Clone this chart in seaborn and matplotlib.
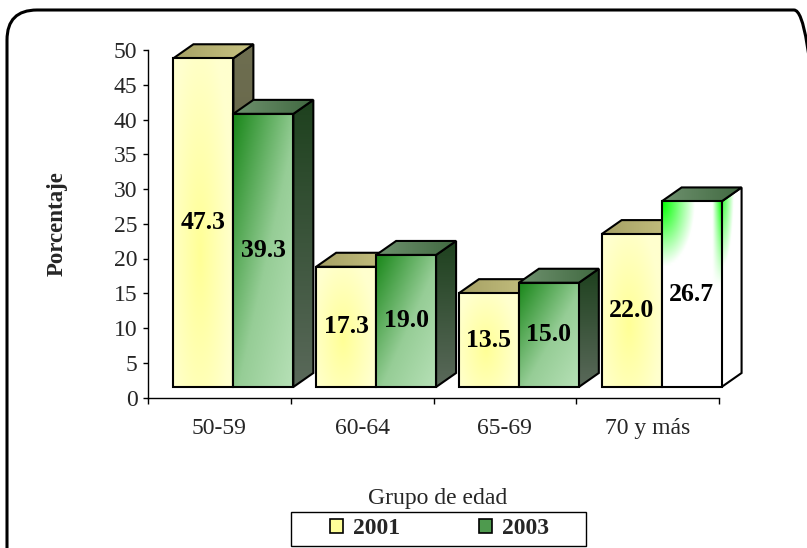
import numpy as np
import pandas as pd
import matplotlib
matplotlib.use("Agg")
import matplotlib.pyplot as plt
import seaborn as sns
from matplotlib.patches import Polygon, FancyBboxPatch, Rectangle

# ---------------- data ----------------
grupos = ["50-59", "60-64", "65-69", "70 y más"]
anios = ["2001", "2003"]
v2001 = [47.3, 17.3, 13.5, 22.0]
v2003 = [39.3, 19.0, 15.0, 26.7]
yticks = [0, 5, 10, 15, 20, 25, 30, 35, 40, 45, 50]

sns.set_style("white")
plt.rcParams["font.family"] = ["Liberation Serif", "DejaVu Serif"]

W, H = 807, 548
fig = plt.figure(figsize=(W / 100, H / 100), dpi=100)
L, R, B, T = 148, 719, H - 397.5, H - 50
ax = fig.add_axes([L / W, B / H, (R - L) / W, (T - B) / H])

df = pd.DataFrame({
    "grupo": grupos * 2,
    "anio": [anios[0]] * len(grupos) + [anios[1]] * len(grupos),
    "pct": v2001 + v2003,
})
sns.barplot(data=df, x="grupo", y="pct", hue="anio", width=0.84,
            palette=["#FFFFCC", "#88C888"], saturation=1, errorbar=None,
            legend=False, ax=ax)
ax.set_xlim(-0.5, len(grupos) - 0.5)
ax.set_ylim(0, 50)
ax.set_yticks(yticks)
for s in ["top", "right"]:
    ax.spines[s].set_visible(False)
for s in ["left", "bottom"]:
    ax.spines[s].set_color("black")
    ax.spines[s].set_linewidth(1.0)
ax.tick_params(axis="y", left=True, length=3.6, width=1, color="black",
               labelsize=17, pad=4, direction="out")
ax.tick_params(axis="x", which="major", bottom=False, length=0, labelsize=17, pad=15)
ax.set_xticks(np.arange(-0.5, len(grupos), 1.0), minor=True)
ax.tick_params(axis="x", which="minor", bottom=True, length=4.5, width=1,
               color="black", direction="out")
ax.set_xlabel("Grupo de edad", fontsize=17)
ax.xaxis.set_label_coords((438 - L) / (R - L), (397.5 - 488) / (397.5 - 50))
ax.set_ylabel("Porcentaje", fontsize=16.5, fontweight="bold")
ax.yaxis.set_label_coords((68 - L) / (R - L), 0.5)
ax.grid(False)

# ---------------- 3D-looking faces on overlay (pixel space) ----------------
ov = fig.add_axes([0, 0, 1, 1])
ov.set_zorder(5)
ov.axis("off")

FX, FY = 14, 10.5      # front-face shift
DX, DY = 20, 14        # depth

n = 64
u, v = np.meshgrid(np.linspace(0, 1, n), np.linspace(0, 1, n))


def mix(c0, c1, t):
    c0 = np.array(c0) / 255.0
    c1 = np.array(c1) / 255.0
    t = np.clip(t, 0, 1)[..., None]
    return c0 * (1 - t) + c1 * t


def front_2001():
    d = np.sqrt(((u - 0.45) / 0.55) ** 2 + ((v - 0.6) / 0.7) ** 2)
    return mix((255, 255, 150), (255, 255, 206), d)


def front_2003():
    s = (u + v) / 2
    img = mix((25, 135, 25), (150, 205, 150), s / 0.55)
    img2 = mix((150, 205, 150), (182, 224, 182), (s - 0.55) / 0.45)
    return np.where((s > 0.55)[..., None], img2, img)


def front_special():
    d = np.sqrt((u / 0.55) ** 2 + (v / 0.35) ** 2)
    img = mix((0, 255, 0), (255, 255, 255), d)
    r = np.clip((u - 0.85) / 0.15, 0, 1) * np.clip(1 - v / 0.45, 0, 1)
    return mix((255, 255, 255), (0, 255, 0), r) * (r[..., None] > 0) + img * (r[..., None] <= 0)


def side_2001():
    return mix((110, 110, 80), (90, 90, 65), v)


def top_2001():
    return mix((165, 160, 100), (200, 195, 130), u)


def side_2003():
    return mix((30, 65, 30), (90, 105, 90), v)


def top_2003():
    return mix((110, 145, 110), (65, 105, 65), u)


def side_special():
    d = np.sqrt((u / 0.6) ** 2 + (v / 0.4) ** 2)
    return mix((40, 255, 40), (255, 255, 255), d)


def face(verts, img, z):
    verts = np.asarray(verts, dtype=float)
    xmin, ymin = verts.min(0)
    xmax, ymax = verts.max(0)
    im = ov.imshow(img, extent=(xmin, xmax, ymin, ymax), origin="upper",
                   aspect="auto", interpolation="bilinear", zorder=z)
    poly = Polygon(verts, closed=True, facecolor="none", edgecolor="black",
                   lw=1.5, zorder=z + 0.01, joinstyle="miter")
    ov.add_patch(poly)
    im.set_clip_path(poly)


z = 1
ncat = len(grupos)
for j in range(ncat):
    for i, cont in enumerate(ax.containers):
        p = cont.patches[j]
        x0, y0 = p.get_x(), p.get_y()
        x1, y1 = x0 + p.get_width(), y0 + p.get_height()
        (X0, Y0), (X1, Y1) = ax.transData.transform([(x0, y0), (x1, y1)])
        X0 += FX; X1 += FX; Y0 += FY; Y1 += FY
        special = (i == 1 and j == ncat - 1)
        if i == 0:
            fimg, simg, timg = front_2001(), side_2001(), top_2001()
        elif special:
            fimg, simg, timg = front_special(), side_special(), top_2003()
        else:
            fimg, simg, timg = front_2003(), side_2003(), top_2003()
        face([(X1, Y0), (X1 + DX, Y0 + DY), (X1 + DX, Y1 + DY), (X1, Y1)], simg, z)
        face([(X0, Y1), (X1, Y1), (X1 + DX, Y1 + DY), (X0 + DX, Y1 + DY)], timg, z + 0.1)
        face([(X0, Y0), (X1, Y0), (X1, Y1), (X0, Y1)], fimg, z + 0.2)
        ov.text((X0 + X1) / 2, (Y0 + Y1) / 2, f"{p.get_height():.1f}",
                ha="center", va="center", fontsize=18.5, fontweight="bold",
                color="black", zorder=z + 0.3)
        p.set_visible(False)
        z += 1

ov.set_xlim(0, W)
ov.set_ylim(0, H)

# figure border
border = FancyBboxPatch((7, -40), 824 - 7, 538 + 40, boxstyle="round,pad=0,rounding_size=30",
                        facecolor="none", edgecolor="black", lw=2.2, clip_on=False, zorder=100)
ov.add_patch(border)

# legend
handles = [Rectangle((0, 0), 1, 1, facecolor="#FFFF99", edgecolor="black", lw=1.2),
           Rectangle((0, 0), 1, 1, facecolor="#4E9A4E", edgecolor="black", lw=1.2)]
leg = fig.legend(handles=handles, labels=anios, loc="center",
                 bbox_to_anchor=(439.5 / W, 1 - 529 / H), ncol=2, frameon=False,
                 prop={"weight": "bold", "size": 17}, handlelength=0.55,
                 handleheight=0.55, columnspacing=3.35, borderpad=0.15,
                 handletextpad=0.42, borderaxespad=0)
ov.add_patch(Rectangle((291, H - 546), 586 - 291, 546 - 512, facecolor="none",
                       edgecolor="black", lw=1.0, zorder=90))

fig.savefig("out.png", dpi=100)
